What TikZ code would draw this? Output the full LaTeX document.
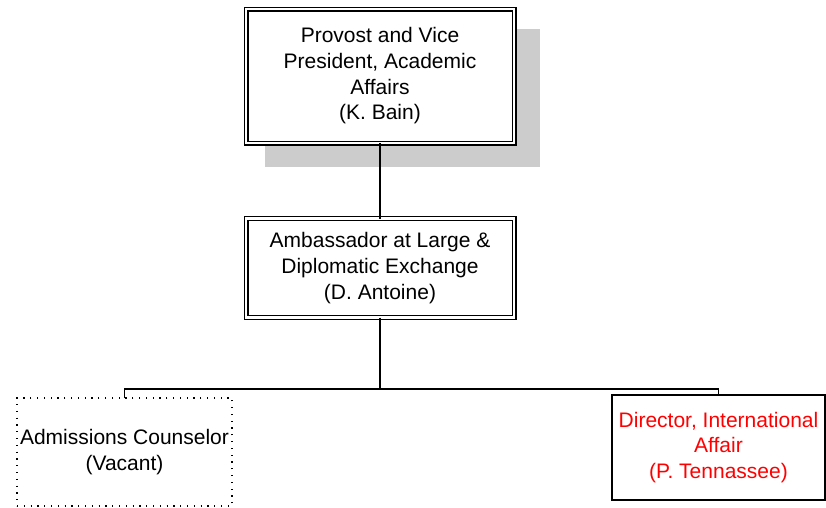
\documentclass[tikz,border=0pt]{standalone}
\usepackage{fontspec}
\setmainfont{Liberation Sans}
\definecolor{shadowgray}{HTML}{CCCCCC}
\definecolor{tred}{HTML}{FF0000}
\begin{document}
\begin{tikzpicture}[x=1pt,y=-1pt,
  txt/.style={font=\fontsize{21}{25.7}\selectfont, align=center, inner sep=0pt, outer sep=0pt},
  dbox/.style={txt, draw=black, fill=white, line width=1.4pt, double=white, double distance=2.2pt},
  dotbox/.style={txt, draw=black, line width=1.2pt, dash pattern=on 1.2pt off 5.6pt},
  redbox/.style={txt, draw=black, fill=white, line width=1.4pt, text=tred},
  conn/.style={draw=black, line width=1.4pt}]
\useasboundingbox (0,0) rectangle (826,507);
\fill[shadowgray] (265,29) rectangle (540,167);
\node[dbox, minimum width=268pt, minimum height=134pt] (top) at (380,76)
  {Provost and Vice\\President, Academic\\Affairs\\(K. Bain)};
\node[dbox, minimum width=268pt, minimum height=99pt] (mid) at (380,268)
  {Ambassador at Large \&\\Diplomatic Exchange\\(D. Antoine)};
\node[dotbox, minimum width=215pt, minimum height=108pt] (left) at (124.5,452)
  {Admissions Counselor\\(Vacant)};
\node[redbox, minimum width=213pt, minimum height=105pt] (right) at (718.5,447.5)
  {Director, International\\Affair\\(P. Tennassee)};
\coordinate (j) at (380,389);
\draw[conn] (top.south) -- (mid.north);
\draw[conn] (mid.south) -- (j);
\draw[conn] (left.north) |- (j) -| (right.north);
\end{tikzpicture}
\end{document}
